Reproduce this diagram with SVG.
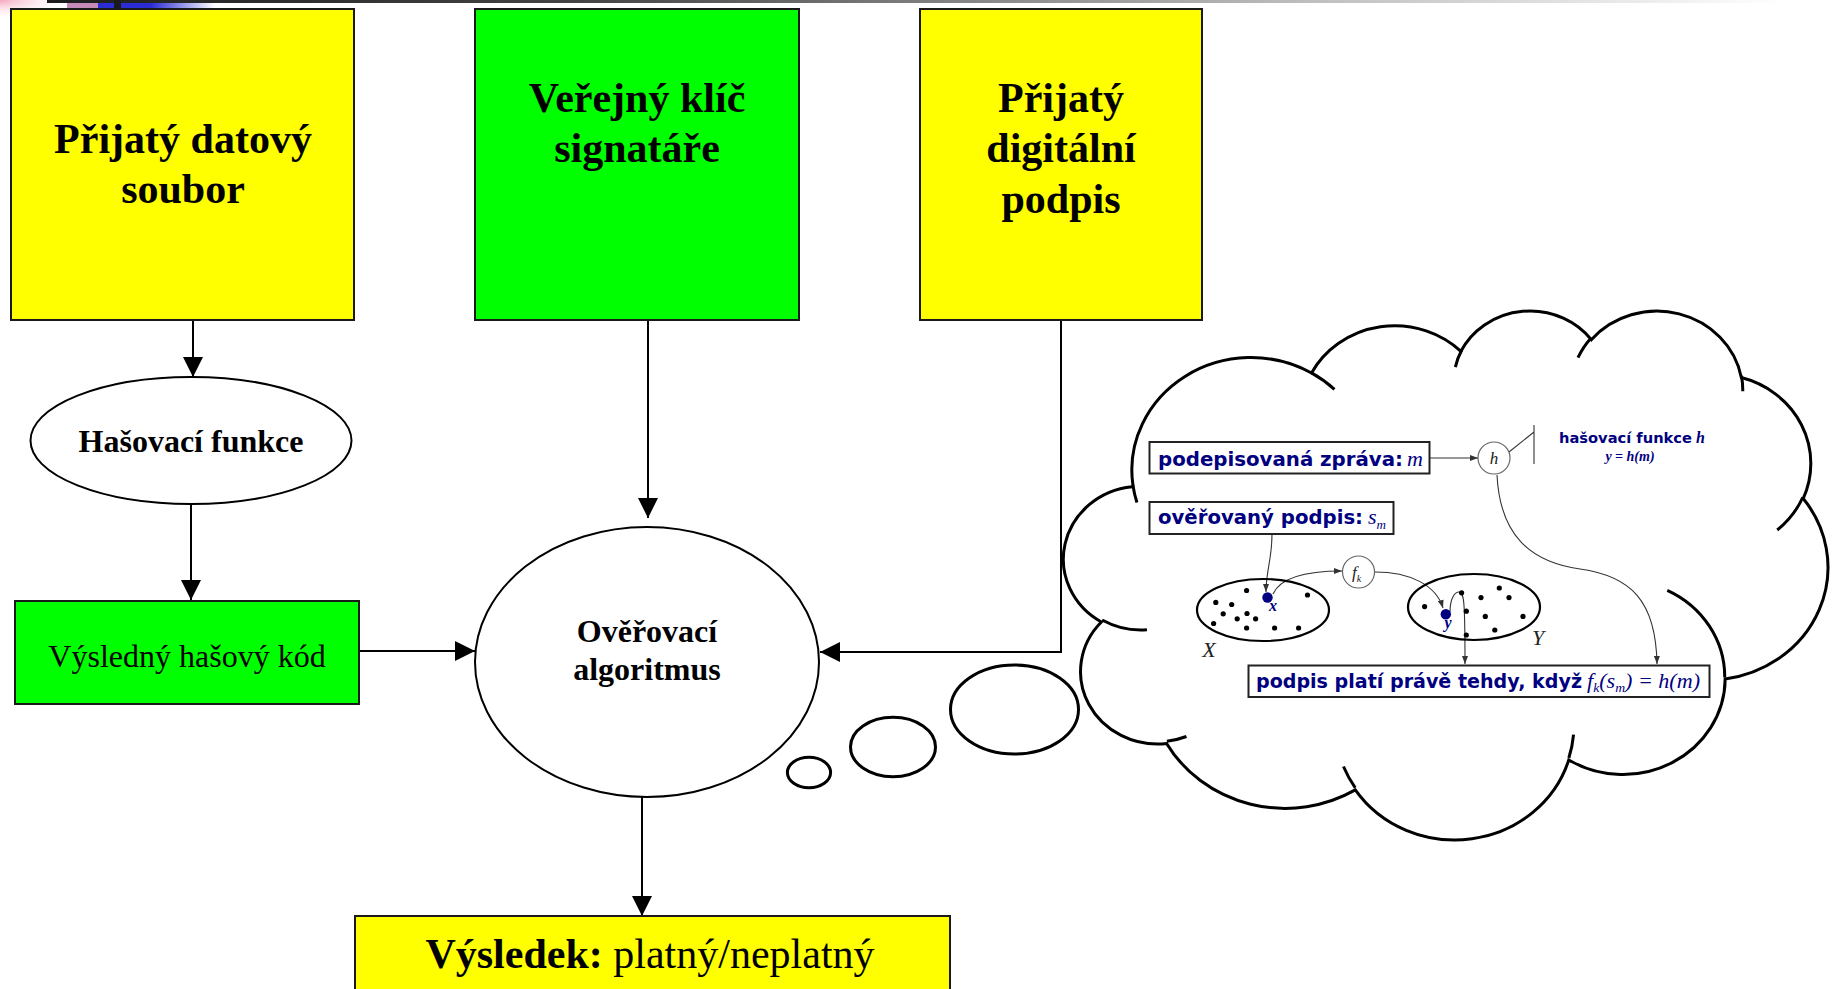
<svg xmlns="http://www.w3.org/2000/svg" width="1837" height="989" viewBox="0 0 1837 989">
  <defs>
    <linearGradient id="gBar" x1="0" y1="0" x2="1" y2="0">
      <stop offset="0" stop-color="#1c1c1c"/>
      <stop offset="0.3" stop-color="#454545"/>
      <stop offset="0.7" stop-color="#bdbdbd"/>
      <stop offset="0.97" stop-color="#ffffff"/>
    </linearGradient>
    <radialGradient id="gPink" cx="0" cy="0" r="1">
      <stop offset="0" stop-color="#f4a7bd"/>
      <stop offset="1" stop-color="#ffffff" stop-opacity="0"/>
    </radialGradient>
    <linearGradient id="gBlue" x1="0" y1="0" x2="1" y2="0">
      <stop offset="0" stop-color="#2c2cd4"/>
      <stop offset="0.45" stop-color="#2c2cd4"/>
      <stop offset="1" stop-color="#ffffff"/>
    </linearGradient>
    <marker id="ah" markerUnits="userSpaceOnUse" markerWidth="20" markerHeight="20" viewBox="0 0 20 20" refX="20" refY="10" orient="auto">
      <path d="M0,0 L20,10 L0,20 Z" fill="#000"/>
    </marker>
    <marker id="sa" markerUnits="userSpaceOnUse" markerWidth="8" markerHeight="6" viewBox="0 0 8 6" refX="8" refY="3" orient="auto">
      <path d="M0,0 L8,3 L0,6 Z" fill="#333"/>
    </marker>
  </defs>
  <style>
    .box{stroke:#1a1a1a;stroke-width:2}
    .yel{fill:#ffff00}
    .grn{fill:#00ff00}
    .ell{fill:#fff;stroke:#000;stroke-width:2}
    .t{font-family:"Liberation Serif","Times New Roman",serif;fill:#000;text-anchor:middle}
    .big{font-size:42px;font-weight:bold}
    .mid{font-size:32px}
    .b{font-weight:bold}
    .conn{fill:none;stroke:#000;stroke-width:2;marker-end:url(#ah)}
    .cloud{fill:#fff;stroke:#000;stroke-width:3}
    .cstub{fill:none;stroke:#000;stroke-width:3}
    .ibox{fill:#fff;stroke:#222;stroke-width:2}
    .sans{font-family:"DejaVu Sans","Verdana",sans-serif;font-weight:bold;fill:#000080}
    .math{font-family:"Liberation Serif","Times New Roman",serif;font-style:italic}
    .navy{fill:#000080}
    .ic{fill:#fff;stroke:#666;stroke-width:1.2}
    .thin{fill:none;stroke:#333;stroke-width:1.1}
    .tarr{fill:none;stroke:#333;stroke-width:1.1;marker-end:url(#sa)}
    .set{fill:none;stroke:#000;stroke-width:2.2}
    .dot{fill:#000}
    .bdot{fill:#000080}
  </style>

  <!-- slide header strip -->
  <g id="header">
    <rect x="0" y="0" width="75" height="20" fill="url(#gPink)"/>
    <rect x="47" y="0" width="1790" height="3" fill="url(#gBar)"/>
    <rect x="67" y="3" width="31" height="5" fill="#c58ab8"/>
    <rect x="98" y="3" width="117" height="5" fill="url(#gBlue)"/>
    <rect x="114" y="0" width="7" height="10" fill="#1a1a1a"/>
  </g>

  <!-- connectors of the main flow -->
  <g id="connectors">
    <path class="conn" d="M193,320 V377"/>
    <path class="conn" d="M191,504 V600"/>
    <path class="conn" d="M355,651 H475"/>
    <path class="conn" d="M648,320 V518"/>
    <path class="conn" d="M1061,320 V652 H820"/>
    <path class="conn" d="M642,797 V916"/>
  </g>

  <g id="n-datovy-soubor">
    <rect class="box yel" x="11" y="9" width="343" height="311"/>
    <text class="t big" x="183" y="153">Přijatý datový</text>
    <text class="t big" x="183" y="203">soubor</text>
  </g>

  <g id="n-verejny-klic">
    <rect class="box grn" x="475" y="9" width="324" height="311"/>
    <text class="t big" x="637" y="112">Veřejný klíč</text>
    <text class="t big" x="637" y="162">signatáře</text>
  </g>

  <g id="n-digitalni-podpis">
    <rect class="box yel" x="920" y="9" width="282" height="311"/>
    <text class="t big" x="1061" y="112">Přijatý</text>
    <text class="t big" x="1061" y="162">digitální</text>
    <text class="t big" x="1061" y="213">podpis</text>
  </g>

  <g id="n-hasovaci-funkce">
    <ellipse class="ell" cx="191" cy="440.5" rx="160.5" ry="63.5"/>
    <text class="t mid b" x="191" y="452">Hašovací funkce</text>
  </g>

  <g id="n-hasovy-kod">
    <rect class="box grn" x="15" y="601" width="344" height="103"/>
    <text class="t mid" x="187" y="667">Výsledný hašový kód</text>
  </g>

  <g id="n-overovaci-algoritmus">
    <ellipse class="ell" cx="647" cy="662" rx="172" ry="135"/>
    <text class="t mid b" x="647" y="642">Ověřovací</text>
    <text class="t mid b" x="647" y="680">algoritmus</text>
  </g>

  <g id="n-vysledek">
    <rect class="box yel" x="355" y="916" width="595" height="100"/>
    <text class="t" x="650" y="968" font-size="42"><tspan font-weight="bold">Výsledek:</tspan> platný/neplatný</text>
  </g>

  <!-- thought cloud with its trailing bubbles -->
  <g id="n-cloud">
    <ellipse class="cloud" cx="809" cy="772.5" rx="21.6" ry="15.2"/>
    <ellipse class="cloud" cx="893" cy="747" rx="42.5" ry="29.7"/>
    <ellipse class="cloud" cx="1014.5" cy="709.5" rx="64" ry="44.5"/>
    <path class="cloud" d="M1132.94,485.20 A119.37,112.49 0 0 1 1311.55,372.98 A94.27,88.96 0 0 1 1460.93,351.30 A77.16,72.77 0 0 1 1591.33,339.66 A85.85,80.73 0 0 1 1741.31,377.55 A94.27,89.03 0 0 1 1803.19,498.54 A119.75,112.86 0 0 1 1725.17,679.02 A102.26,96.30 0 0 1 1568.76,759.93 A119.35,112.80 0 0 1 1355.30,789.91 A136.46,129.06 0 0 1 1166.60,743.46 A77.07,72.44 0 0 1 1101.35,622.00 A76.80,72.77 0 0 1 1132.28,486.81 Z"/>
    <path class="cstub" d="M1146.95,629.73 A76.80,72.77 0 0 1 1102.18,619.98 M1186.46,736.50 A77.07,72.44 0 0 1 1166.87,741.17 M1355.27,787.80 A119.35,112.80 0 0 1 1343.47,766.52 M1573.55,734.69 A119.35,112.80 0 0 1 1568.83,758.06 M1667.27,590.28 A102.26,96.30 0 0 1 1724.74,677.63 M1802.82,497.25 A94.27,89.03 0 0 1 1777.23,530.00 M1741.42,375.72 A85.85,80.73 0 0 1 1742.77,391.19 M1577.98,357.68 A85.85,80.73 0 0 1 1591.09,337.95 M1455.36,367.08 A77.16,72.77 0 0 1 1461.71,350.07 M1311.46,372.86 A119.37,112.49 0 0 1 1334.45,389.37 M1136.95,502.57 A119.37,112.49 0 0 1 1132.94,485.20"/>
  </g>

  <!-- signature check sketch inside the cloud -->
  <g id="sketch-links">
    <path class="tarr" d="M1430,458 H1478"/>
    <path class="thin" d="M1509,452 L1534,432 M1534,425 V464"/>
    <path class="tarr" d="M1272,534 C1272,560 1266,570 1266,592"/>
    <path class="tarr" d="M1273,594 C1281,576 1310,571 1342,571"/>
    <path class="tarr" d="M1375,572 C1410,572 1436,585 1443,608"/>
    <path class="tarr" d="M1450,612 C1450,598 1455,592 1459,592 C1464,592 1465,600 1465,664"/>
    <path class="tarr" d="M1497,475 C1500,535 1530,562 1580,569 C1630,576 1656,600 1657,664"/>
  </g>

  <g id="n-zprava">
    <rect class="ibox" x="1149.5" y="442" width="280" height="31.5"/>
    <text class="sans" x="1158" y="465.5" font-size="19" textLength="245" lengthAdjust="spacingAndGlyphs">podepisovaná zpráva:</text>
    <text class="math navy" x="1407" y="465.5" font-size="22">m</text>
  </g>

  <g id="n-hash-h">
    <circle class="ic" cx="1494" cy="458" r="16"/>
    <text class="math" x="1494" y="464" font-size="17" fill="#222" text-anchor="middle">h</text>
  </g>

  <g id="n-hash-label">
    <text class="sans" x="1559" y="443" font-size="14" textLength="133" lengthAdjust="spacingAndGlyphs">hašovací funkce</text>
    <text class="math navy" x="1696" y="443" font-size="16" font-weight="bold">h</text>
    <text class="math navy" x="1630" y="461" font-size="14" font-weight="bold" text-anchor="middle">y = h(m)</text>
  </g>

  <g id="n-podpis">
    <rect class="ibox" x="1149.5" y="502" width="244" height="32"/>
    <text class="sans" x="1158" y="524" font-size="19" textLength="205" lengthAdjust="spacingAndGlyphs">ověřovaný podpis:</text>
    <text class="math navy" x="1368" y="524" font-size="22">s<tspan font-size="13" dy="5">m</tspan></text>
  </g>

  <g id="n-fk">
    <circle class="ic" cx="1358.5" cy="572" r="16"/>
    <text class="math" x="1352" y="578" font-size="17" fill="#222">f<tspan font-size="10" dy="4">k</tspan></text>
  </g>

  <g id="n-set-x">
    <ellipse class="set" cx="1263" cy="610" rx="66" ry="31"/>
    <circle class="dot" cx="1246.6" cy="590.5" r="2.6"/>
    <circle class="dot" cx="1307.5" cy="595" r="2.6"/>
    <circle class="dot" cx="1215.8" cy="602.4" r="2.6"/>
    <circle class="dot" cx="1231.7" cy="604.5" r="2.6"/>
    <circle class="dot" cx="1223.2" cy="613.8" r="2.6"/>
    <circle class="dot" cx="1247" cy="613.5" r="2.6"/>
    <circle class="dot" cx="1237.2" cy="618.8" r="2.6"/>
    <circle class="dot" cx="1255.6" cy="618.8" r="2.6"/>
    <circle class="dot" cx="1213.6" cy="623.5" r="2.6"/>
    <circle class="dot" cx="1246.6" cy="628" r="2.6"/>
    <circle class="dot" cx="1274.6" cy="628" r="2.6"/>
    <circle class="dot" cx="1298.6" cy="628" r="2.6"/>
    <circle class="bdot" cx="1267.5" cy="597.5" r="5.2"/>
    <text class="math navy" x="1273" y="611" font-size="16" font-weight="bold" text-anchor="middle">x</text>
    <text class="math" x="1209" y="657" font-size="22" fill="#222" text-anchor="middle">X</text>
  </g>

  <g id="n-set-y">
    <ellipse class="set" cx="1474" cy="607" rx="66" ry="33"/>
    <circle class="dot" cx="1461.6" cy="592.8" r="2.6"/>
    <circle class="dot" cx="1499.3" cy="588" r="2.6"/>
    <circle class="dot" cx="1509" cy="597.6" r="2.6"/>
    <circle class="dot" cx="1481" cy="597.6" r="2.6"/>
    <circle class="dot" cx="1424.6" cy="606.6" r="2.6"/>
    <circle class="dot" cx="1466.3" cy="611.2" r="2.6"/>
    <circle class="dot" cx="1485.3" cy="616.4" r="2.6"/>
    <circle class="dot" cx="1523" cy="616.4" r="2.6"/>
    <circle class="dot" cx="1494.8" cy="630" r="2.6"/>
    <circle class="dot" cx="1466.3" cy="635" r="2.6"/>
    <circle class="bdot" cx="1445.8" cy="614.2" r="5.2"/>
    <text class="math navy" x="1448" y="628" font-size="16" font-weight="bold" text-anchor="middle">y</text>
    <text class="math" x="1538" y="645" font-size="22" fill="#222" text-anchor="middle">Y</text>
  </g>

  <g id="n-podminka">
    <rect class="ibox" x="1248.5" y="665.5" width="461" height="31.5"/>
    <text class="sans" x="1256" y="688" font-size="19" textLength="326" lengthAdjust="spacingAndGlyphs">podpis platí právě tehdy, když</text>
    <text class="math navy" x="1587" y="688" font-size="21" textLength="113" lengthAdjust="spacingAndGlyphs">f<tspan font-size="13" dy="4">k</tspan><tspan dy="-4">(s</tspan><tspan font-size="13" dy="4">m</tspan><tspan dy="-4">) = h(m)</tspan></text>
  </g>
</svg>
